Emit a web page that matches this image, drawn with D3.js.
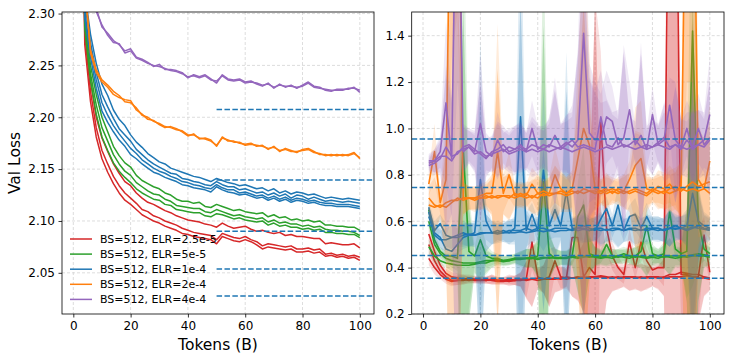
<!DOCTYPE html>
<html>
<head>
<meta charset="utf-8">
<style>
  body{margin:0;background:#fff}
  svg{display:block;font-family:"DejaVu Sans",sans-serif}
</style>
</head>
<body>
<svg id="chart" width="731" height="361"></svg>
<script src="https://d3js.org/d3.v7.min.js"></script>
<script>
// token counts (B) shared by both panels
var tokens = [2,4,6,8,10,12,14,16,18,20,22,24,26,28,30,32,34,36,38,40,42,44,46,48,50,
              52,54,56,58,60,62,64,66,68,70,72,74,76,78,80,82,84,86,88,90,92,94,96,98,100]

var labels = ['BS=512, ELR=2.5e-5','BS=512, ELR=5e-5','BS=512, ELR=1e-4','BS=512, ELR=2e-4','BS=512, ELR=4e-4']
var colors = ['#d62728','#2ca02c','#1f77b4','#ff7f0e','#9467bd']

// left panel: val loss, several runs per setting
var lossRed = [
  [2.70,2.29,2.235,2.200,2.180,2.167,2.155,2.146,2.138,2.134,2.127,2.122,2.118,2.116,2.113,2.110,2.108,2.105,2.103,2.101,2.100,2.099,2.097,2.096,2.094,2.098,2.095,2.093,2.094,2.095,2.092,2.090,2.091,2.089,2.088,2.089,2.086,2.087,2.085,2.085,2.084,2.083,2.083,2.078,2.079,2.078,2.077,2.077,2.078,2.074],
  [2.68,2.28,2.225,2.190,2.168,2.155,2.143,2.134,2.127,2.122,2.117,2.111,2.109,2.105,2.103,2.100,2.098,2.096,2.093,2.091,2.089,2.088,2.087,2.086,2.082,2.088,2.086,2.084,2.083,2.085,2.082,2.080,2.076,2.078,2.077,2.076,2.075,2.076,2.073,2.073,2.074,2.072,2.073,2.068,2.069,2.067,2.068,2.066,2.067,2.065],
  [2.66,2.27,2.215,2.181,2.160,2.147,2.136,2.127,2.120,2.116,2.111,2.106,2.103,2.100,2.098,2.095,2.093,2.091,2.088,2.087,2.085,2.084,2.083,2.082,2.078,2.085,2.083,2.081,2.080,2.082,2.080,2.077,2.073,2.075,2.074,2.073,2.072,2.073,2.070,2.070,2.071,2.069,2.070,2.066,2.067,2.065,2.066,2.064,2.065,2.062]
]
var lossGreen = [
  [2.75,2.30,2.250,2.222,2.200,2.186,2.172,2.163,2.156,2.152,2.144,2.139,2.136,2.133,2.131,2.127,2.125,2.121,2.119,2.119,2.117,2.118,2.114,2.113,2.116,2.114,2.112,2.110,2.111,2.109,2.108,2.107,2.108,2.104,2.106,2.103,2.104,2.101,2.102,2.100,2.101,2.099,2.100,2.096,2.096,2.095,2.095,2.094,2.094,2.091],
  [2.73,2.29,2.242,2.212,2.190,2.177,2.164,2.155,2.148,2.144,2.137,2.133,2.129,2.126,2.125,2.121,2.119,2.115,2.114,2.113,2.112,2.112,2.109,2.108,2.111,2.109,2.107,2.105,2.106,2.104,2.103,2.102,2.103,2.099,2.101,2.098,2.099,2.097,2.097,2.095,2.096,2.094,2.095,2.092,2.091,2.091,2.090,2.090,2.089,2.086],
  [2.71,2.285,2.235,2.203,2.181,2.168,2.156,2.148,2.142,2.137,2.131,2.127,2.124,2.121,2.120,2.116,2.115,2.111,2.110,2.109,2.108,2.108,2.105,2.104,2.107,2.106,2.104,2.102,2.103,2.101,2.100,2.099,2.100,2.096,2.098,2.095,2.096,2.094,2.094,2.092,2.093,2.091,2.092,2.089,2.089,2.088,2.088,2.087,2.087,2.084]
]
var lossBlue = [
  [2.80,2.32,2.280,2.252,2.232,2.221,2.207,2.198,2.192,2.183,2.176,2.171,2.165,2.161,2.157,2.155,2.151,2.149,2.147,2.145,2.143,2.142,2.140,2.138,2.141,2.139,2.137,2.136,2.134,2.135,2.133,2.131,2.132,2.129,2.131,2.127,2.129,2.126,2.128,2.127,2.125,2.126,2.124,2.122,2.123,2.122,2.121,2.122,2.121,2.120],
  [2.78,2.31,2.272,2.243,2.222,2.210,2.199,2.189,2.183,2.177,2.169,2.164,2.159,2.155,2.152,2.149,2.146,2.145,2.141,2.140,2.138,2.137,2.135,2.134,2.138,2.135,2.133,2.133,2.130,2.131,2.129,2.127,2.128,2.125,2.127,2.124,2.126,2.122,2.125,2.124,2.121,2.123,2.121,2.119,2.120,2.119,2.118,2.119,2.118,2.117],
  [2.76,2.30,2.265,2.236,2.214,2.202,2.192,2.184,2.177,2.170,2.165,2.159,2.155,2.151,2.148,2.146,2.143,2.141,2.138,2.137,2.135,2.134,2.132,2.131,2.135,2.132,2.130,2.130,2.127,2.128,2.126,2.124,2.125,2.122,2.124,2.121,2.123,2.120,2.122,2.121,2.119,2.120,2.118,2.117,2.117,2.116,2.116,2.116,2.115,2.114],
  [2.74,2.295,2.258,2.228,2.206,2.195,2.186,2.178,2.172,2.164,2.160,2.155,2.151,2.147,2.145,2.142,2.140,2.138,2.135,2.134,2.132,2.131,2.130,2.128,2.133,2.130,2.128,2.127,2.125,2.126,2.124,2.122,2.123,2.120,2.122,2.119,2.121,2.118,2.120,2.119,2.117,2.118,2.116,2.115,2.115,2.114,2.114,2.114,2.113,2.112]
]
var lossOrange = [
  [2.80,2.33,2.262,2.243,2.234,2.229,2.222,2.219,2.217,2.216,2.207,2.203,2.198,2.197,2.193,2.190,2.191,2.189,2.186,2.182,2.184,2.179,2.180,2.178,2.172,2.181,2.177,2.177,2.175,2.174,2.175,2.172,2.173,2.169,2.172,2.167,2.170,2.168,2.166,2.169,2.170,2.167,2.164,2.164,2.163,2.164,2.163,2.164,2.166,2.160],
  [2.78,2.325,2.265,2.246,2.236,2.231,2.225,2.221,2.215,2.214,2.209,2.202,2.200,2.196,2.194,2.191,2.190,2.188,2.187,2.183,2.183,2.180,2.179,2.177,2.173,2.180,2.178,2.176,2.176,2.173,2.174,2.173,2.172,2.170,2.171,2.168,2.169,2.167,2.167,2.168,2.169,2.166,2.165,2.163,2.164,2.163,2.164,2.163,2.165,2.161]
]
var lossPurple = [
  [2.70,2.50,2.370,2.305,2.287,2.281,2.274,2.270,2.264,2.266,2.258,2.256,2.253,2.249,2.251,2.246,2.246,2.245,2.243,2.238,2.241,2.239,2.241,2.237,2.233,2.241,2.237,2.236,2.237,2.234,2.235,2.232,2.230,2.233,2.228,2.232,2.229,2.231,2.228,2.231,2.234,2.230,2.229,2.226,2.225,2.227,2.227,2.227,2.229,2.224],
  [2.69,2.49,2.365,2.302,2.289,2.279,2.272,2.271,2.262,2.264,2.257,2.255,2.252,2.250,2.249,2.247,2.245,2.244,2.242,2.239,2.240,2.238,2.240,2.236,2.235,2.240,2.236,2.235,2.236,2.233,2.234,2.233,2.231,2.232,2.229,2.231,2.230,2.230,2.229,2.230,2.233,2.229,2.228,2.227,2.226,2.226,2.226,2.228,2.228,2.226]
]
var leftRuns = [lossRed, lossGreen, lossBlue, lossOrange, lossPurple]
var leftRefs = [2.2074, 2.1394, 2.0901, 2.0538, 2.0276]   // dashed reference levels
var leftRefStart = 50

// right panel: runs per setting plus the spread of each setting
var rRed = [
  [0.545,0.47,0.41,0.375,0.36,0.355,0.35,0.355,0.35,0.35,0.345,0.35,0.345,0.345,0.34,0.345,0.35,0.35,0.51,0.36,0.35,0.36,0.43,0.36,0.355,0.53,0.53,0.36,0.40,0.37,1.03,0.57,0.45,0.40,0.37,0.51,0.40,0.51,0.43,0.39,0.40,0.40,2.5,2.5,0.37,0.37,0.36,0.36,0.54,0.38],
  [0.50,0.43,0.385,0.36,0.345,0.345,0.345,0.35,0.345,0.345,0.35,0.345,0.34,0.34,0.345,0.345,0.345,0.35,0.35,0.345,0.35,0.35,0.35,0.355,0.35,0.355,0.36,0.355,0.36,0.36,0.365,0.36,0.355,0.36,0.355,0.36,0.36,0.355,0.36,0.36,0.355,0.36,0.37,0.37,0.38,0.375,0.37,0.37,0.36,0.355],
  [0.44,0.40,0.37,0.35,0.34,0.345,0.35,0.345,0.35,0.345,0.345,0.35,0.345,0.345,0.35,0.345,0.35,0.345,0.35,0.355,0.35,0.35,0.355,0.35,0.36,0.355,0.355,0.36,0.355,0.36,0.36,0.355,0.36,0.355,0.36,0.36,0.355,0.36,0.355,0.36,0.36,0.355,0.36,0.36,0.36,0.365,0.36,0.355,0.355,0.35]
]
var rGreen = [
  [0.65,0.52,0.47,0.45,0.45,0.44,0.92,0.47,0.45,0.52,0.45,0.44,0.44,0.43,0.43,0.44,0.44,0.44,0.44,0.45,0.77,0.46,0.44,0.44,0.44,0.45,0.62,0.67,0.46,0.45,0.45,0.50,0.45,0.45,0.46,0.45,0.45,0.47,0.58,0.46,0.45,0.46,0.64,0.48,0.46,0.47,1.42,0.60,0.48,0.46],
  [0.60,0.50,0.46,0.44,0.43,0.425,0.42,0.42,0.42,0.425,0.43,0.43,0.435,0.43,0.435,0.44,0.44,0.44,0.445,0.44,0.445,0.44,0.445,0.44,0.445,0.45,0.445,0.45,0.445,0.45,0.445,0.45,0.45,0.445,0.45,0.45,0.445,0.45,0.445,0.45,0.45,0.445,0.45,0.45,0.45,0.445,0.45,0.45,0.45,0.445],
  [0.49,0.45,0.43,0.42,0.415,0.41,0.41,0.41,0.415,0.42,0.42,0.43,0.43,0.425,0.43,0.435,0.435,0.44,0.44,0.435,0.44,0.445,0.44,0.445,0.44,0.445,0.44,0.445,0.45,0.445,0.44,0.445,0.44,0.45,0.445,0.44,0.45,0.445,0.44,0.445,0.44,0.45,0.445,0.44,0.445,0.45,0.455,0.46,0.455,0.45]
]
var rBlue = [
  [0.66,0.56,0.59,0.54,0.53,0.54,0.55,0.54,0.55,0.78,0.60,0.55,0.55,0.56,0.55,0.57,1.05,0.56,0.63,0.56,0.82,0.58,0.65,0.58,0.73,0.57,0.57,0.58,0.57,0.56,0.61,0.655,0.58,0.67,0.56,0.62,0.63,0.57,0.62,0.57,0.57,0.56,0.57,0.58,0.57,0.58,0.72,0.60,0.58,0.57],
  [0.62,0.55,0.53,0.48,0.47,0.50,0.53,0.54,0.54,0.55,0.55,0.55,0.56,0.55,0.56,0.56,0.56,0.57,0.56,0.57,0.57,0.56,0.57,0.57,0.57,0.56,0.57,0.57,0.56,0.57,0.57,0.56,0.57,0.57,0.56,0.57,0.57,0.56,0.57,0.57,0.57,0.56,0.57,0.57,0.57,0.56,0.57,0.58,0.57,0.565],
  [0.64,0.54,0.52,0.52,0.53,0.53,0.54,0.545,0.54,0.545,0.55,0.55,0.545,0.55,0.55,0.55,0.555,0.55,0.555,0.56,0.555,0.56,0.555,0.56,0.56,0.565,0.56,0.565,0.56,0.565,0.56,0.565,0.56,0.565,0.56,0.565,0.56,0.565,0.56,0.565,0.56,0.565,0.57,0.565,0.57,0.565,0.575,0.57,0.565,0.56]
]
var rOrange = [
  [0.76,0.90,0.68,0.78,2.5,2.5,0.70,0.70,0.70,0.71,0.72,0.72,0.90,0.72,0.80,0.71,0.72,0.71,0.76,0.72,0.71,0.72,0.80,0.74,0.72,0.74,0.87,1.00,0.93,0.74,0.73,0.74,0.72,0.74,0.73,0.78,0.84,0.87,0.74,0.73,0.75,0.74,0.76,0.73,0.75,2.5,2.5,0.78,0.74,0.86],
  [0.70,0.67,0.66,0.68,0.69,0.69,0.70,0.70,0.69,0.70,0.70,0.71,0.70,0.71,0.71,0.70,0.71,0.70,0.71,0.70,0.72,0.71,0.72,0.72,0.71,0.72,0.73,0.72,0.73,0.72,0.73,0.72,0.73,0.72,0.73,0.72,0.73,0.72,0.71,0.73,0.72,0.73,0.72,0.73,0.74,0.73,0.74,0.73,0.74,0.72],
  [0.67,0.66,0.67,0.66,0.68,0.70,0.69,0.70,0.70,0.70,0.71,0.70,0.71,0.71,0.70,0.72,0.71,0.72,0.70,0.72,0.73,0.72,0.72,0.73,0.72,0.73,0.72,0.74,0.73,0.73,0.72,0.73,0.74,0.73,0.72,0.73,0.74,0.73,0.72,0.74,0.73,0.72,0.74,0.75,0.73,0.75,0.77,0.75,0.76,0.77]
]
var rPurple = [
  [0.86,0.86,0.90,1.11,0.87,2.5,0.90,0.92,0.90,1.02,0.90,0.88,0.95,0.90,0.92,0.91,0.93,0.90,1.00,0.91,0.93,0.92,0.97,0.92,0.94,0.92,0.95,1.41,0.98,0.95,0.95,1.05,1.03,0.93,0.96,1.08,0.93,0.97,0.91,1.06,0.93,0.95,1.10,0.95,0.92,1.00,0.91,0.93,0.95,1.06],
  [0.84,0.85,0.87,0.92,0.88,0.89,0.92,0.93,0.91,0.89,0.87,0.90,0.91,0.93,0.90,0.91,0.92,0.91,0.93,0.92,0.91,0.93,0.92,0.91,0.93,0.95,0.92,0.93,0.92,0.91,1.05,0.93,0.92,0.96,0.92,0.93,0.95,0.92,0.93,0.92,0.94,0.96,0.92,0.93,0.91,0.95,0.92,1.00,0.93,0.96],
  [0.85,0.86,0.88,0.88,0.86,0.90,0.91,0.92,0.89,0.90,0.88,0.89,0.90,0.91,0.89,0.90,0.91,0.90,0.91,0.90,0.91,0.90,0.91,0.92,0.91,0.90,0.91,0.92,0.91,0.90,0.91,0.92,0.91,0.92,0.93,0.92,0.91,0.92,0.91,0.92,0.93,0.92,0.91,0.93,0.92,0.91,0.92,0.93,0.92,0.95]
]
var spreadRed    = [0.03,0.03,0.02,0.02,0.02,0.02,0.02,0.015,0.015,0.015,0.015,0.02,0.015,0.015,0.02,0.02,0.03,0.08,0.12,0.04,0.06,0.12,0.06,0.05,0.04,0.08,0.1,0.15,0.3,1.2,0.3,0.1,0.06,0.05,0.04,0.06,0.05,0.06,0.05,0.04,0.05,0.08,1.5,1.5,0.2,0.2,1.1,0.2,0.08,0.05]
var spreadGreen  = [0.03,0.03,0.02,0.02,0.03,0.04,1.1,0.25,0.04,0.08,0.05,0.03,0.02,0.02,0.02,0.02,0.03,0.04,0.04,0.08,1.0,0.1,0.04,0.03,0.03,0.04,0.15,0.25,0.08,0.04,0.03,0.04,0.03,0.03,0.03,0.03,0.04,0.05,0.08,0.04,0.03,0.05,0.08,0.04,0.04,0.2,1.1,0.2,0.05,0.04]
var spreadBlue   = [0.03,0.04,0.04,0.05,0.05,0.04,0.05,0.05,0.05,0.6,0.08,0.05,0.04,0.04,0.05,0.05,1.0,0.08,0.05,0.05,0.35,0.06,0.12,0.05,0.6,0.05,0.05,0.06,0.05,0.05,0.07,0.05,0.05,0.08,0.05,0.05,0.07,0.05,0.06,0.05,0.05,0.05,0.08,0.05,0.05,0.07,0.6,0.15,0.06,0.05]
var spreadOrange = [0.05,0.12,0.05,0.25,1.2,1.0,0.07,0.05,0.05,0.05,0.05,0.08,0.55,0.08,0.1,0.05,0.05,0.05,0.07,0.08,0.05,0.07,0.12,0.08,0.07,0.08,0.4,0.8,0.4,0.08,0.05,0.07,0.05,0.05,0.07,0.08,0.25,0.25,0.07,0.05,0.07,0.07,0.08,0.08,0.12,1.3,1.3,0.25,0.2,0.25]
var spreadPurple = [0.03,0.05,0.07,0.35,0.25,1.3,0.1,0.07,0.08,0.3,0.08,0.07,0.12,0.08,0.08,0.1,0.1,0.08,0.12,0.1,0.08,0.12,0.25,0.1,0.12,0.15,0.4,0.8,0.3,0.25,0.2,0.2,0.15,0.12,0.4,0.12,0.08,0.4,0.08,0.12,0.08,0.15,0.12,0.25,0.12,0.12,0.15,0.15,0.12,0.25]
var rightRuns = [rRed, rGreen, rBlue, rOrange, rPurple]
var rightSpread = [spreadRed, spreadGreen, spreadBlue, spreadOrange, spreadPurple]
var rightRefs = [0.955, 0.745, 0.5815, 0.452, 0.354]

var xTicks = [0,20,40,60,80,100]
var leftYTicks = [2.05,2.10,2.15,2.20,2.25,2.30]
var rightYTicks = [0.2,0.4,0.6,0.8,1.0,1.2,1.4]

var svg = d3.select('#chart')
var plotTop = 12, plotBottom = 314

function panel(id, left, right, yDomain, yTicks, yFmt) {
  var x = d3.scaleLinear().domain([-3.95, 104.95]).range([left, right])
  var y = d3.scaleLinear().domain(yDomain).range([plotBottom, plotTop])
  var g = svg.append('g')

  svg.append('clipPath').attr('id', id).append('rect')
    .attr('x', left).attr('y', plotTop).attr('width', right - left).attr('height', plotBottom - plotTop)

  // grid
  g.selectAll('.gx').data(xTicks).enter().append('line')
    .attr('x1', d => x(d)).attr('x2', d => x(d)).attr('y1', plotTop).attr('y2', plotBottom)
    .attr('stroke', '#d4d4d4').attr('stroke-width', 0.8).attr('stroke-dasharray', '3,2')
  g.selectAll('.gy').data(yTicks).enter().append('line')
    .attr('y1', d => y(d)).attr('y2', d => y(d)).attr('x1', left).attr('x2', right)
    .attr('stroke', '#d4d4d4').attr('stroke-width', 0.8).attr('stroke-dasharray', '3,2')

  var ax = g.append('g').attr('transform', `translate(0,${plotBottom})`)
    .call(d3.axisBottom(x).tickValues(xTicks).tickSize(3.5).tickPadding(3.5).tickFormat(d3.format('d')))
  var ay = g.append('g').attr('transform', `translate(${left},0)`)
    .call(d3.axisLeft(y).tickValues(yTicks).tickSize(3.5).tickPadding(3.5).tickFormat(d3.format(yFmt)))
  ;[ax, ay].forEach(a => {
    a.select('.domain').remove()
    a.selectAll('text').attr('font-size', 12).attr('fill', '#000').attr('font-family', '"DejaVu Sans", sans-serif')
    a.selectAll('line').attr('stroke', '#000').attr('stroke-width', 0.8)
  })

  g.append('text').text('Tokens (B)')
    .attr('x', (left + right) / 2).attr('y', 350)
    .attr('text-anchor', 'middle').attr('font-size', 15.5)

  var plot = svg.append('g').attr('clip-path', `url(#${id})`)
  return {x: x, y: y, g: g, plot: plot, left: left, right: right}
}

function frame(p) {
  svg.append('rect').attr('x', p.left).attr('y', plotTop)
    .attr('width', p.right - p.left).attr('height', plotBottom - plotTop)
    .attr('fill', 'none').attr('stroke', '#000').attr('stroke-width', 0.8)
}

// ---- left panel
var L = panel('clipL', 62, 374, [2.0103, 2.3015], leftYTicks, '.2f')
var lineL = d3.line().x((d, i) => L.x(tokens[i])).y(d => L.y(d))
leftRuns.forEach((runs, c) => {
  runs.forEach(r => {
    L.plot.append('path').datum(r).attr('d', lineL)
      .attr('fill', 'none').attr('stroke', colors[c]).attr('stroke-width', 1.5).attr('stroke-linejoin', 'round')
  })
})
L.plot.selectAll('.ref').data(leftRefs).enter().append('line')
  .attr('x1', L.x(leftRefStart)).attr('x2', L.right + 2)
  .attr('y1', d => L.y(d)).attr('y2', d => L.y(d))
  .attr('stroke', '#1f77b4').attr('stroke-width', 1.5).attr('stroke-dasharray', '5.5,2.4')

L.g.append('text').text('Val Loss')
  .attr('transform', 'translate(20,163) rotate(-90)')
  .attr('text-anchor', 'middle').attr('font-size', 15.5)

var leg = svg.append('g').attr('transform', 'translate(70,239)')
labels.forEach((t, i) => {
  var row = leg.append('g').attr('transform', `translate(0,${i * 15.1})`)
  row.append('line').attr('x1', 0).attr('x2', 22).attr('stroke', colors[i]).attr('stroke-width', 1.5)
  row.append('text').text(t).attr('x', 30).attr('y', 4).attr('font-size', 11)
})
frame(L)

// ---- right panel
var R = panel('clipR', 411.7, 724, [0.2, 1.502], rightYTicks, '.1f')
var lineR = d3.line().x((d, i) => R.x(tokens[i])).y(d => R.y(d))
rightRuns.forEach((runs, c) => {
  var s = rightSpread[c]
  runs.forEach(r => {
    var band = d3.area().x((d, i) => R.x(tokens[i]))
      .y0((d, i) => R.y(d - s[i])).y1((d, i) => R.y(d + s[i]))
    R.plot.append('path').datum(r).attr('d', band)
      .attr('fill', colors[c]).attr('fill-opacity', 0.15)
  })
  runs.forEach(r => {
    R.plot.append('path').datum(r).attr('d', lineR)
      .attr('fill', 'none').attr('stroke', colors[c]).attr('stroke-width', 1.6).attr('stroke-linejoin', 'round')
  })
})
R.plot.selectAll('.ref').data(rightRefs).enter().append('line')
  .attr('x1', R.left).attr('x2', R.right)
  .attr('y1', d => R.y(d)).attr('y2', d => R.y(d))
  .attr('stroke', '#1f77b4').attr('stroke-width', 1.5).attr('stroke-dasharray', '5.5,2.4')
frame(R)
</script>
</body>
</html>
